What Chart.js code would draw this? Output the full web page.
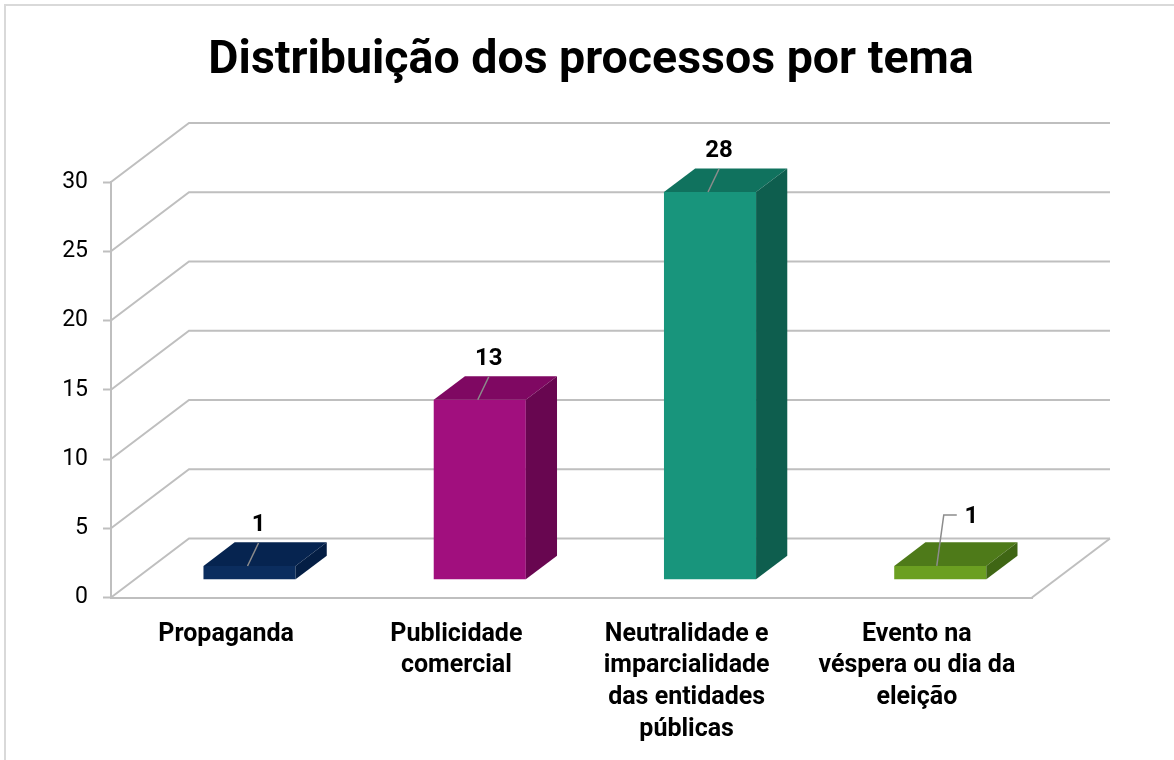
<!DOCTYPE html>
<html>
<head>
<meta charset="utf-8">
<script src="https://cdn.jsdelivr.net/npm/chart.js@4"></script>
<style>
  body { margin: 0; background: #fff; overflow: hidden; }
  #wrap { width: 1174px; height: 760px; }
</style>
</head>
<body>
<div id="wrap"><canvas id="barChart"></canvas></div>
<script>
const categories = [
  ['Propaganda'],
  ['Publicidade', 'comercial'],
  ['Neutralidade e', 'imparcialidade', 'das entidades', 'públicas'],
  ['Evento na', 'véspera ou dia da', 'eleição']
];
const processos = [1, 13, 28, 1];
const yTicks = [0, 5, 10, 15, 20, 25, 30];

const frontColors = ['#0B2D5E', '#A10F7E', '#18957C', '#6B9F21'];
const topColors = ['#062450', '#7F0862', '#10725E', '#4E7A19'];
const sideColors = ['#041E44', '#680650', '#0E5E4E', '#3F6614'];

const GRID = '#BFBFBF';
// depth of the floor / walls, and where the bars sit inside it
const depth = { x: 78, y: -59 };
const barFront = 0.3;
const barDepth = 0.4;

Chart.defaults.font.family = 'Roboto';
Chart.defaults.color = '#000';

const BAR = document.getElementById('barChart');

const frame = {
  id: 'frame',
  beforeDraw(chart) {
    const ctx = chart.ctx;
    ctx.save();
    ctx.strokeStyle = '#D9D9D9';
    ctx.lineWidth = 2;
    ctx.strokeRect(5, 5, 1300, 900);
    ctx.restore();
  }
};

const threeD = {
  id: 'threeD',
  beforeDatasetsDraw(chart) {
    const { ctx, chartArea: a, scales: { y } } = chart;
    ctx.save();
    ctx.strokeStyle = GRID;
    ctx.lineWidth = 2;
    yTicks.forEach(v => {
      const py = y.getPixelForValue(v);
      ctx.beginPath();
      ctx.moveTo(a.left, py);
      ctx.lineTo(a.left + depth.x, py + depth.y);
      ctx.lineTo(a.right + depth.x, py + depth.y);
      ctx.stroke();
    });
    ctx.beginPath();
    ctx.moveTo(a.right, a.bottom);
    ctx.lineTo(a.right + depth.x, a.bottom + depth.y);
    ctx.stroke();
    ctx.restore();

    // bars stand inside the floor, not on its front edge
    ctx.save();
    ctx.translate(depth.x * barFront, depth.y * barFront);
  },
  afterDatasetsDraw(chart) {
    const ctx = chart.ctx;
    const dx = depth.x * barDepth, dy = depth.y * barDepth;
    chart.getDatasetMeta(0).data.forEach((bar, i) => {
      const { x, y, base, width } = bar.getProps(['x', 'y', 'base', 'width'], true);
      const l = x - width / 2, r = x + width / 2;

      ctx.fillStyle = topColors[i];
      ctx.beginPath();
      ctx.moveTo(l, y);
      ctx.lineTo(r, y);
      ctx.lineTo(r + dx, y + dy);
      ctx.lineTo(l + dx, y + dy);
      ctx.closePath();
      ctx.fill();

      ctx.fillStyle = sideColors[i];
      ctx.beginPath();
      ctx.moveTo(r, y);
      ctx.lineTo(r + dx, y + dy);
      ctx.lineTo(r + dx, base + dy);
      ctx.lineTo(r, base);
      ctx.closePath();
      ctx.fill();

      // value label with its leader line
      ctx.strokeStyle = '#8C8C8C';
      ctx.lineWidth = 1.5;
      ctx.beginPath();
      let lx, ly;
      if (i === processos.length - 1) {
        ctx.moveTo(x - 3.5, y);
        ctx.lineTo(x + 3.5, y - 51);
        ctx.lineTo(x + 16.5, y - 51);
        lx = x + 31; ly = y - 49;
      } else {
        ctx.moveTo(x - 2, y);
        ctx.lineTo(x + 9, y - 23);
        lx = x + 9; ly = y - 41;
      }
      ctx.stroke();
      ctx.fillStyle = '#000';
      ctx.font = 'bold 24px Roboto';
      ctx.textAlign = 'center';
      ctx.textBaseline = 'middle';
      ctx.fillText(String(processos[i]), lx, ly);
    });
    ctx.restore();
  }
};

let barChart = new Chart(BAR, {
  type: 'bar',
  data: {
    labels: categories,
    datasets: [{
      label: 'Processos',
      data: processos,
      backgroundColor: frontColors,
      barPercentage: 0.4,
      categoryPercentage: 1.0,
      clip: false
    }]
  },
  options: {
    responsive: true,
    maintainAspectRatio: false,
    animation: false,
    layout: {
      padding: { left: 8, right: 0, top: 0, bottom: 0 }
    },
    scales: {
      x: {
        afterFit: s => { s.height = 162.5; },
        grid: { display: false },
        border: { display: true, color: GRID, width: 2 },
        ticks: {
          autoSkip: false,
          maxRotation: 0,
          padding: 13,
          font: { size: 25, weight: 'bold', lineHeight: '31.7px' }
        }
      },
      y: {
        min: 0,
        max: 30,
        afterFit: s => { s.width = 103; },
        grid: { drawOnChartArea: false, tickLength: 8, tickColor: GRID, tickWidth: 2 },
        border: { display: true, color: GRID, width: 2 },
        ticks: {
          stepSize: 5,
          padding: 15,
          font: { size: 23 }
        }
      },
      // empty axis on the right that keeps room for the 3D walls
      room: {
        position: 'right',
        afterFit: s => { s.width = 142; },
        grid: { display: false },
        border: { display: false },
        ticks: { display: false }
      }
    },
    plugins: {
      legend: { display: false },
      tooltip: { enabled: false },
      title: {
        display: true,
        text: 'Distribuição dos processos por tema',
        font: { size: 46.5, weight: 'bold', lineHeight: 1.2 },
        color: '#000',
        padding: { top: 33, bottom: 93.2 }
      }
    }
  },
  plugins: [frame, threeD]
});
</script>
</body>
</html>
